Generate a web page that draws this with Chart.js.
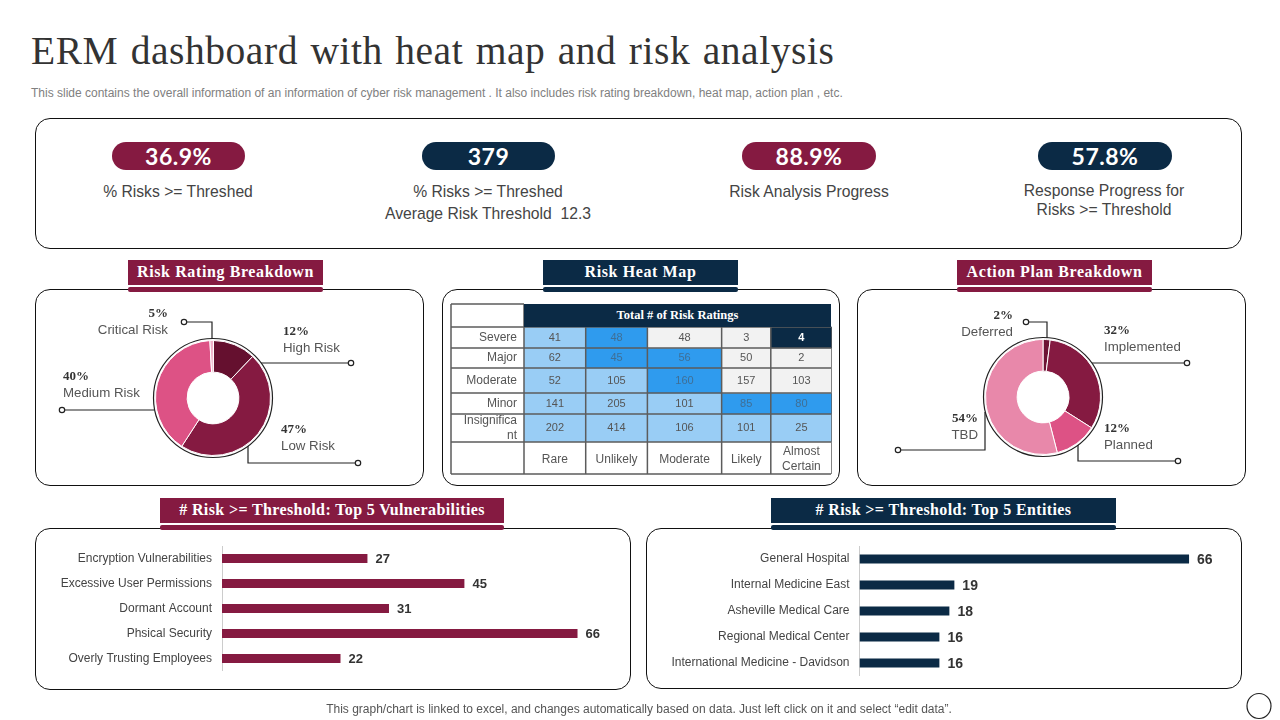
<!DOCTYPE html>
<html>
<head>
<meta charset="utf-8">
<title>ERM dashboard with heat map and risk analysis</title>
<script src="https://cdn.jsdelivr.net/npm/chart.js@4"></script>
<style>
  html, body { margin: 0; padding: 0; background: #fff; }
  #page { position: relative; width: 1280px; height: 720px; overflow: hidden; font-family: "Liberation Sans", Arial, sans-serif; }
  #page > * { position: absolute; }
  canvas { display: block; }
  .title { left: 31px; top: 28px; font: 39.5px/46px "Liberation Serif", serif; color: #333; white-space: nowrap; letter-spacing: 0.55px; word-spacing: 2px; }
  .sub { left: 31px; top: 86px; font-size: 12px; line-height: 15px; color: #808080; white-space: nowrap; }
  .foot { left: 0; width: 1278px; top: 702px; text-align: center; font-size: 12px; line-height: 15px; color: #555; }
  .box { border: 1px solid #111; border-radius: 15px; box-sizing: border-box; background: #fff; }
  .pill { height: 28px; border-radius: 14px; color: #fff; text-align: center; font: 700 23px/29px Lato, sans-serif; letter-spacing: 0.5px; }
  .kpi { text-align: center; font-size: 15.7px; line-height: 22px; color: #444; white-space: nowrap; }
  .head { height: 25px; color: #fff; text-align: center; font: bold 16px/24px "Liberation Serif", serif; letter-spacing: 0.6px; white-space: nowrap; }
  .head.low { letter-spacing: 0.38px; }
  .strip { height: 5px; border-radius: 2px; }
  .wine { background: #851a41; }
  .navy { background: #0b2a45; }
  .tbl-head { left: 524px; top: 304px; width: 307px; height: 23px; color: #fff; text-align: center; font: bold 12.5px/22px "Liberation Serif", serif; }
  .pct { font: bold 13px/16px "Liberation Serif", serif; color: #333; white-space: nowrap; }
  .name { font-size: 13.3px; line-height: 16px; color: #555; white-space: nowrap; }
  svg { left: 0; top: 0; }
</style>
</head>
<body>
<div id="page">
  <div class="title">ERM dashboard with heat map and risk analysis</div>
  <div class="sub">This slide contains the overall information of an information of cyber risk management . It also includes risk rating breakdown, heat map, action plan , etc.</div>

  <div class="box" style="left:35px;top:118px;width:1207px;height:131px"></div>
  <div class="box" style="left:35px;top:289px;width:389px;height:197px"></div>
  <div class="box" style="left:442px;top:289px;width:398px;height:197px"></div>
  <div class="box" style="left:857px;top:289px;width:389px;height:197px"></div>
  <div class="box" style="left:35px;top:528px;width:596px;height:162px"></div>
  <div class="box" style="left:646px;top:528px;width:596px;height:161px"></div>

  <div class="pill wine" style="left:112px;top:142px;width:133px">36.9%</div>
  <div class="pill navy" style="left:422px;top:142px;width:133px">379</div>
  <div class="pill wine" style="left:742px;top:142px;width:134px">88.9%</div>
  <div class="pill navy" style="left:1038px;top:142px;width:134px">57.8%</div>
  <div class="kpi" style="left:78px;top:181px;width:200px">% Risks &gt;= Threshed</div>
  <div class="kpi" style="left:368px;top:181px;width:240px">% Risks &gt;= Threshed<br>Average Risk Threshold&nbsp; 12.3</div>
  <div class="kpi" style="left:689px;top:181px;width:240px">Risk Analysis Progress</div>
  <div class="kpi" style="left:984px;top:181px;width:240px;line-height:19px">Response Progress for<br>Risks &gt;= Threshold</div>

  <div class="head wine" style="left:128px;top:260px;width:195px">Risk Rating Breakdown</div>
  <div class="strip wine" style="left:128px;top:287px;width:195px"></div>
  <div class="head navy" style="left:543px;top:260px;width:195px">Risk Heat Map</div>
  <div class="strip navy" style="left:543px;top:287px;width:195px"></div>
  <div class="head wine" style="left:957px;top:260px;width:195px">Action Plan Breakdown</div>
  <div class="strip wine" style="left:957px;top:287px;width:195px"></div>
  <div class="head low wine" style="left:160px;top:498px;width:344px">#&nbsp;Risk &gt;= Threshold: Top 5 Vulnerabilities</div>
  <div class="strip wine" style="left:160px;top:525px;width:344px"></div>
  <div class="head low navy" style="left:771px;top:498px;width:345px">#&nbsp;Risk &gt;= Threshold: Top 5 Entities</div>
  <div class="strip navy" style="left:771px;top:525px;width:345px"></div>

  <canvas id="riskDonut" width="116" height="116" style="left:155px;top:340px"></canvas>
  <canvas id="actionDonut" width="116" height="116" style="left:985px;top:339px"></canvas>
  <canvas id="heatMap" width="382" height="172" style="left:450px;top:303px"></canvas>
  <div class="tbl-head navy">Total # of Risk Ratings</div>
  <canvas id="vulnBars" width="586" height="125" style="left:40px;top:546px"></canvas>
  <canvas id="entityBars" width="584" height="130" style="left:650px;top:546px"></canvas>

  <svg id="lines" width="1280" height="720" fill="none" stroke="#222" stroke-width="1.2">
    <circle cx="213" cy="398" r="59.5"/>
    <circle cx="1043" cy="397" r="59.5"/>
    <path d="M187 322H212V339M261 363H348M248 446V463H355M65 410H154"/>
    <path d="M1029 322H1047V338M1092 363H1184M1078 445V461H1175M985 412V450H901"/>
    <g fill="#fff">
      <circle cx="184" cy="322" r="2.7"/><circle cx="351" cy="363" r="2.7"/><circle cx="358" cy="463" r="2.7"/><circle cx="62" cy="410" r="2.7"/>
      <circle cx="1026" cy="322" r="2.7"/><circle cx="1187" cy="363" r="2.7"/><circle cx="1178" cy="461" r="2.7"/><circle cx="898" cy="450" r="2.7"/>
    </g>
    <ellipse cx="1259" cy="706" rx="12" ry="12.5"/>
  </svg>

  <div class="foot">This graph/chart is linked to excel, and changes automatically based on data. Just left click on it and select “edit data”.</div>
</div>

<script>
// donut 1 - slices follow the picture, the printed percent is a separate list
const riskNames = ["High Risk", "Low Risk", "Medium Risk", "Critical Risk"];
const riskShares = [12, 47, 40, 1];
const riskPercents = ["12%", "47%", "40%", "5%"];
const riskColors = ["#65102f", "#851a41", "#dd5285", "#eeb0c8"];

// donut 2
const actionNames = ["Deferred", "Implemented", "Planned", "TBD"];
const actionShares = [2, 32, 12, 54];
const actionPercents = ["2%", "32%", "12%", "54%"];
const actionColors = ["#6d1335", "#851a41", "#dd5285", "#e888aa"];

// heat map
const heatRows = ["Severe", "Major", "Moderate", "Minor", ["Insignifica", "nt"]];
const heatCols = ["Rare", "Unlikely", "Moderate", "Likely", ["Almost", "Certain"]];
const heatValues = [
  [41, 48, 48, 3, 4],
  [62, 45, 56, 50, 2],
  [52, 105, 160, 157, 103],
  [141, 205, 101, 85, 80],
  [202, 414, 106, 101, 25]
];
// colour band per cell: l = light blue, m = mid blue, g = grey, n = navy
const heatBands = ["lmggn", "lmmgg", "llmgg", "lllmm", "lllll"];
const bandColors = { l: "#99cdf5", m: "#2f9bee", g: "#f2f2f2", n: "#0b2a45" };
// cell edges of the table, the cells are not even in the picture
const colEdges = [0, 61.5, 123, 197, 246, 307];
const rowEdges = [24, 45, 65, 90, 111, 139];

// bars
const vulnNames = ["Encryption Vulnerabilities", "Excessive User Permissions", "Dormant Account", "Phsical Security", "Overly Trusting Employees"];
const vulnValues = [27, 45, 31, 66, 22];
const entityNames = ["General Hospital", "Internal Medicine East", "Asheville Medical Care", "Regional Medical Center", "International Medicine - Davidson"];
const entityValues = [66, 19, 18, 16, 16];

const sans = "'Liberation Sans', Arial, sans-serif";
Chart.defaults.font.family = sans;
Chart.defaults.animation = false;
Chart.defaults.responsive = false;
Chart.defaults.plugins.legend.display = false;
Chart.defaults.plugins.tooltip.enabled = false;

function donut(id, names, shares, colors, turn) {
  new Chart(document.getElementById(id), {
    type: "doughnut",
    data: {
      labels: names,
      datasets: [{ data: shares, backgroundColor: colors, borderColor: "#ffffff", borderWidth: 1 }]
    },
    options: { cutout: "45%", rotation: turn }
  });
}
donut("riskDonut", riskNames, riskShares, riskColors, 0.5);
donut("actionDonut", actionNames, actionShares, actionColors, 0);

// text beside a donut
function callout(name, percent, x, y, right) {
  const page = document.getElementById("page");
  [[percent, "pct", y - 16], [name, "name", y + 1]].forEach(function (line) {
    const el = document.createElement("div");
    el.className = line[1];
    el.textContent = line[0];
    el.style.top = line[2] - 8 + "px";
    if (right) el.style.right = 1280 - x + "px";
    else el.style.left = x + "px";
    page.appendChild(el);
  });
}
callout(riskNames[3], riskPercents[3], 168, 329, true);
callout(riskNames[0], riskPercents[0], 283, 347);
callout(riskNames[1], riskPercents[1], 281, 445);
callout(riskNames[2], riskPercents[2], 63, 392);
callout(actionNames[0], actionPercents[0], 1013, 331, true);
callout(actionNames[1], actionPercents[1], 1104, 346);
callout(actionNames[2], actionPercents[2], 1104, 444);
callout(actionNames[3], actionPercents[3], 978, 434, true);

const middle = edges => edges.slice(1).map((e, i) => (e + edges[i]) / 2);

// tick padding also pushes the plot area in, drop that and keep the set axis size
function fixAxis(s, size) {
  if (s.isHorizontal()) s.height = size;
  else s.width = size;
  s.paddingTop = s.paddingBottom = s.paddingLeft = s.paddingRight = 0;
}

const tablePlugin = {
  id: "tablePlugin",
  afterDatasetsDraw(chart) {
    const c = chart.ctx, xs = chart.scales.x, ys = chart.scales.y;
    c.save();
    c.textAlign = "center";
    c.textBaseline = "middle";
    heatValues.forEach(function (row, r) {
      row.forEach(function (v, i) {
        const dark = heatBands[r][i] === "n";
        c.fillStyle = dark ? "#ffffff" : heatBands[r][i] === "m" ? "#3f6f96" : "#555555";
        c.font = (dark ? "bold " : "") + "11px " + sans;
        c.fillText(v, xs.getPixelForValue((colEdges[i] + colEdges[i + 1]) / 2), ys.getPixelForValue((rowEdges[r] + rowEdges[r + 1]) / 2));
      });
    });
    c.strokeStyle = "#5c5c5c";
    c.lineWidth = 1.5;
    c.beginPath();
    rowEdges.forEach(function (e) {
      const y = ys.getPixelForValue(e);
      c.moveTo(1, y); c.lineTo(chart.width - 1, y);
    });
    c.moveTo(1, 1); c.lineTo(xs.left, 1);
    c.moveTo(1, chart.height - 1); c.lineTo(chart.width - 1, chart.height - 1);
    c.moveTo(1, 1); c.lineTo(1, chart.height - 1);
    colEdges.forEach(function (e) {
      const x = xs.getPixelForValue(e);
      c.moveTo(x, e === 0 ? 1 : ys.getPixelForValue(rowEdges[0]));
      c.lineTo(x, chart.height - 1);
    });
    c.stroke();
    c.restore();
  }
};

new Chart(document.getElementById("heatMap"), {
  type: "bar",
  data: {
    datasets: heatValues.map(function (row, r) {
      return {
        data: row.map((v, i) => ({ x: [colEdges[i], colEdges[i + 1]], y: (rowEdges[r] + rowEdges[r + 1]) / 2 })),
        backgroundColor: row.map((v, i) => bandColors[heatBands[r][i]]),
        barThickness: rowEdges[r + 1] - rowEdges[r],
        grouped: false
      };
    })
  },
  options: {
    indexAxis: "y",
    layout: { padding: 0 },
    scales: {
      x: {
        type: "linear", min: 0, max: 307, position: "bottom",
        grid: { display: false, drawTicks: false }, border: { display: false },
        afterBuildTicks: s => { s.ticks = middle(colEdges).map(v => ({ value: v })); },
        afterFit: s => fixAxis(s, 33),
        ticks: {
          autoSkip: false, maxRotation: 0, padding: 10, color: "#555", font: { size: 12 }, crossAlign: "center",
          callback: (v, i) => heatCols[i]
        }
      },
      y: {
        type: "linear", min: 0, max: 139, reverse: true, offset: false,
        grid: { display: false, drawTicks: false }, border: { display: false },
        afterBuildTicks: s => { s.ticks = middle(rowEdges).map(v => ({ value: v })); },
        afterFit: s => fixAxis(s, 74),
        ticks: {
          autoSkip: false, padding: 7, color: "#555", font: { size: 12 },
          callback: (v, i) => heatRows[i]
        }
      }
    }
  },
  plugins: [tablePlugin]
});

function barEndLabels(size) {
  return {
    id: "barEndLabels",
    afterDatasetsDraw(chart) {
      const c = chart.ctx;
      c.save();
      c.font = "bold " + size + "px " + sans;
      c.fillStyle = "#333";
      c.textBaseline = "middle";
      chart.getDatasetMeta(0).data.forEach(function (bar, i) {
        c.fillText(chart.data.datasets[0].data[i], bar.x + 8, bar.y + 1);
      });
      c.restore();
    }
  };
}

function hbars(id, names, values, color, axisWidth, labelSize, thin) {
  new Chart(document.getElementById(id), {
    type: "bar",
    data: {
      labels: names,
      datasets: [{ data: values, backgroundColor: color, barPercentage: thin, categoryPercentage: 1 }]
    },
    options: {
      indexAxis: "y",
      scales: {
        x: { min: 0, max: 75, display: false },
        y: {
          grid: { display: false, drawTicks: false },
          border: { color: "#cccccc" },
          afterFit: s => fixAxis(s, axisWidth),
          ticks: { color: "#444", font: { size: 12 }, padding: 10, autoSkip: false }
        }
      }
    },
    plugins: [barEndLabels(labelSize)]
  });
}
hbars("vulnBars", vulnNames, vulnValues, "#851a41", 182, 13, 0.36);
hbars("entityBars", entityNames, entityValues, "#0b2a45", 209.5, 14, 0.35);
</script>
</body>
</html>
